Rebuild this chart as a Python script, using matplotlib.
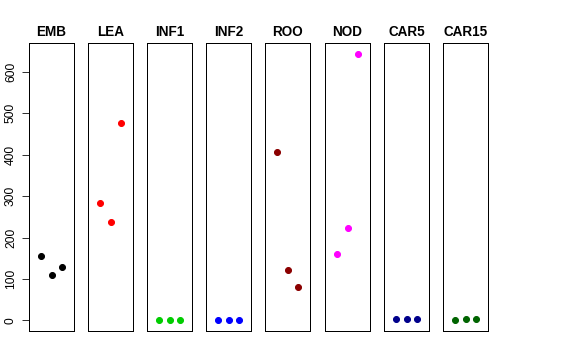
import matplotlib
matplotlib.use("Agg")
import matplotlib.pyplot as plt

tissues = ["EMB", "LEA", "INF1", "INF2", "ROO", "NOD", "CAR5", "CAR15"]
colors = ["black", "red", "#00CD00", "blue", "#8B0000", "magenta", "#00008B", "#006400"]
reps = [1, 2, 3]
EMB = [155, 110, 130]
LEA = [283, 238, 476]
INF1 = [1, 1, 1]
INF2 = [0, 1, 2]
ROO = [407, 122, 81]
NOD = [159, 222, 644]
CAR5 = [4, 4, 3]
CAR15 = [2, 3, 4]
values = [EMB, LEA, INF1, INF2, ROO, NOD, CAR5, CAR15]
yticks = [0, 100, 200, 300, 400, 500, 600]

plt.rcParams['font.family'] = ['Liberation Sans', 'DejaVu Sans']
W, H = 576, 360
fig = plt.figure(figsize=(W / 72, H / 72), dpi=72)

ymin = min(min(v) for v in values)
ymax = max(max(v) for v in values)
pad = (ymax - ymin) * 0.04

lefts = [29, 88, 147, 206, 265, 325, 384, 443]
pw = 45
top, bottom = 43, 331
for i, (name, col, vals) in enumerate(zip(tissues, colors, values)):
    ax = fig.add_axes([lefts[i] / W, (H - bottom) / H, pw / W, (bottom - top) / H])
    ax.plot(reps, vals, 'o', color=col, ms=6, mec=col)
    ax.set_xlim(0 - 0.16, 4 + 0.16)
    ax.set_ylim(ymin - pad, ymax + pad)
    ax.set_xticks([])
    ax.set_title(name, fontsize=13.5, fontweight='bold', pad=7)
    for s in ax.spines.values():
        s.set_linewidth(1)
        s.set_color('black')
    if i == 0:
        ax.set_yticks(yticks)
        ax.set_yticklabels([str(t) for t in yticks], rotation=90, va='center', fontsize=12)
        ax.tick_params(axis='y', length=7, pad=5)
    else:
        ax.set_yticks([])

fig.savefig("out.png", dpi=72)
